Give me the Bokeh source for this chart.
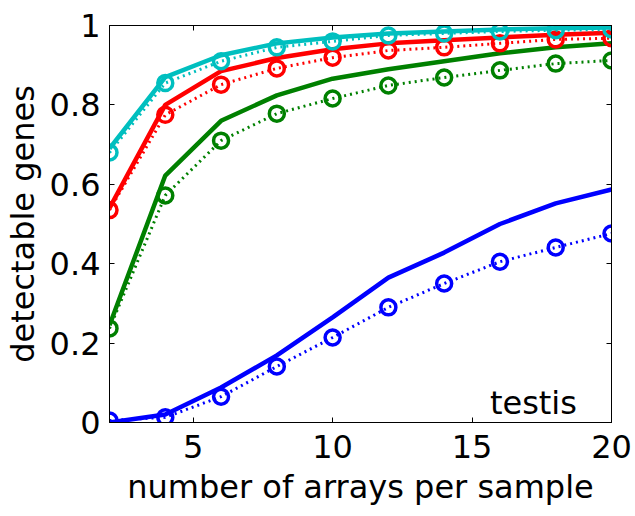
from bokeh.plotting import figure
from bokeh.models import LinearAxis, Range1d, FixedTicker, Label, CustomJSTickFormatter
from bokeh.embed import file_html
from bokeh.resources import INLINE

# ---- data ----
arrays = [2, 4, 6, 8, 10, 12, 14, 16, 18, 20]

cyan_solid  = [0.69, 0.87, 0.925, 0.955, 0.970, 0.980, 0.985, 0.990, 0.993, 0.995]
cyan_dotted = [0.68, 0.855, 0.91, 0.945, 0.960, 0.975, 0.980, 0.985, 0.988, 0.990]

red_solid   = [0.54, 0.80, 0.885, 0.918, 0.940, 0.955, 0.963, 0.970, 0.977, 0.982]
red_dotted  = [0.535, 0.775, 0.851, 0.892, 0.919, 0.937, 0.945, 0.955, 0.965, 0.968]

green_solid  = [0.245, 0.622, 0.760, 0.824, 0.866, 0.890, 0.910, 0.930, 0.945, 0.955]
green_dotted = [0.237, 0.572, 0.710, 0.778, 0.816, 0.849, 0.869, 0.887, 0.904, 0.912]

blue_solid  = [0.0, 0.020, 0.088, 0.169, 0.265, 0.365, 0.428, 0.500, 0.552, 0.587]
blue_dotted = [0.005, 0.013, 0.065, 0.141, 0.214, 0.290, 0.350, 0.405, 0.441, 0.476]

x_ticks = [5, 10, 15, 20]
y_ticks = [0, 0.2, 0.4, 0.6, 0.8, 1.0]
y_tick_labels = {0: "0", 0.2: "0.2", 0.4: "0.4", 0.6: "0.6", 0.8: "0.8", 1.0: "1"}

series = [
    ("#0000FF", blue_solid, blue_dotted),
    ("#008000", green_solid, green_dotted),
    ("#FF0000", red_solid, red_dotted),
    ("#00BFBF", cyan_solid, cyan_dotted),
]

FONT = "DejaVu Sans"
FS = "32px"

p = figure(width=635, height=516, output_backend="svg", toolbar_location=None,
           x_range=Range1d(2, 20), y_range=Range1d(0, 1),
           min_border_left=109, min_border_right=24, min_border_top=25,
           min_border_bottom=94)
p.grid.visible = False
p.outline_line_color = "black"
p.outline_line_width = 1
p.background_fill_color = "white"
p.border_fill_color = "white"

for color, solid, dotted in series:
    p.line(arrays, dotted, line_color=color, line_width=3, line_dash="2 4")
    p.scatter(arrays, dotted, marker="circle", size=15, fill_color=None,
              line_color=color, line_width=3.5)
    p.line(arrays, solid, line_color=color, line_width=4.5)

# axes styling
xa = p.xaxis[0]
xa.ticker = FixedTicker(ticks=x_ticks)
xa.axis_label = "number of arrays per sample"
ya = p.yaxis[0]
ya.ticker = FixedTicker(ticks=y_ticks)
ya.major_label_overrides = y_tick_labels
ya.axis_label = "detectable genes"

for ax in (xa, ya):
    ax.major_tick_in = 5
    ax.major_tick_out = 0
    ax.minor_tick_in = 0
    ax.minor_tick_out = 0
    ax.axis_line_color = "black"
    ax.major_tick_line_color = "black"
    ax.major_label_text_font = FONT
    ax.major_label_text_font_size = FS
    ax.major_label_text_color = "black"
    ax.axis_label_text_font = FONT
    ax.axis_label_text_font_size = FS
    ax.axis_label_text_font_style = "normal"
    ax.axis_label_text_color = "black"

xa.major_label_standoff = 12
xa.axis_label_standoff = 7
ya.major_label_standoff = 9
ya.axis_label_standoff = 5

# box ticks on top and right (no labels)
blank = CustomJSTickFormatter(code="return ''")
top = LinearAxis(ticker=FixedTicker(ticks=x_ticks), formatter=blank)
right = LinearAxis(ticker=FixedTicker(ticks=y_ticks), formatter=blank)
for ax in (top, right):
    ax.major_tick_in = 5
    ax.major_tick_out = 0
    ax.minor_tick_in = 0
    ax.minor_tick_out = 0
    ax.major_label_standoff = 0
    ax.major_label_text_font_size = "10px"
    ax.axis_line_color = "black"
p.add_layout(top, "above")
p.add_layout(right, "right")

p.add_layout(Label(x=17.2, y=0.05, text="testis", text_font=FONT,
                   text_font_size=FS, text_align="center",
                   text_baseline="alphabetic", text_color="black"))

open("out.html", "w").write(file_html(p, INLINE))
